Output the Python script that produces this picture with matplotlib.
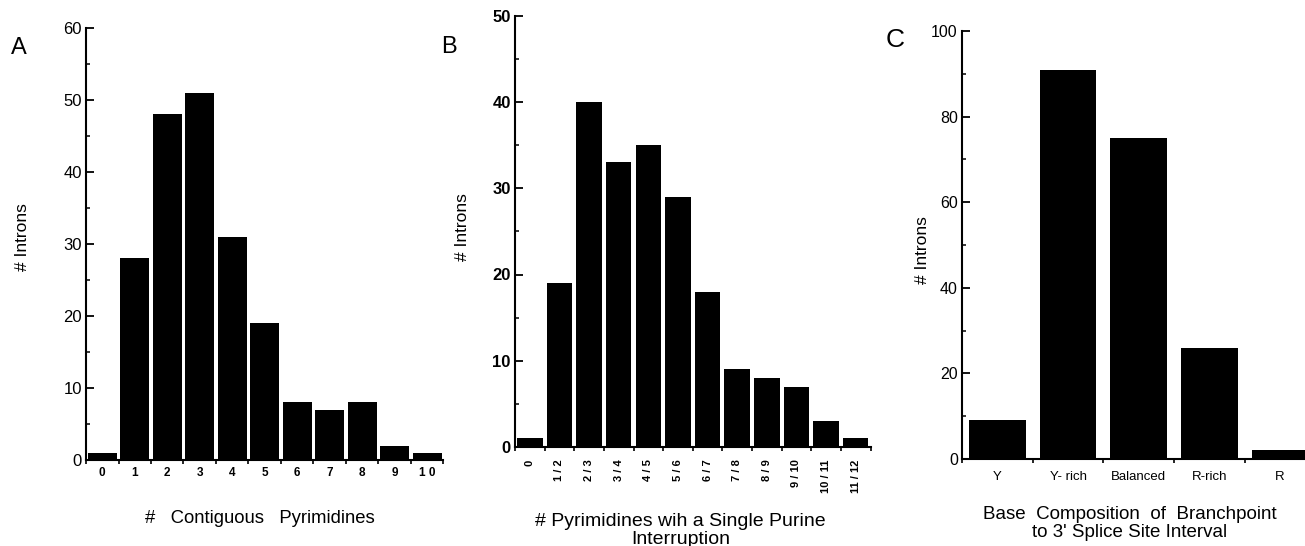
import matplotlib
matplotlib.use("Agg")
import matplotlib.pyplot as plt
import numpy as np
from matplotlib.ticker import MultipleLocator, FixedLocator, NullFormatter

plt.rcParams['font.family'] = ['Liberation Sans', 'DejaVu Sans']

# Panel A - nombre de pyrimidines contigues
a_labels = ["0", "1", "2", "3", "4", "5", "6", "7", "8", "9", "1 0"]
a_values = [1, 28, 48, 51, 31, 19, 8, 7, 8, 2, 1]

# Panel B - pyrimidines avec une seule purine
b_labels = ["0", "1 / 2", "2 / 3", "3 / 4", "4 / 5", "5 / 6", "6 / 7",
            "7 / 8", "8 / 9", "9 / 10", "10 / 11", "11 / 12"]
b_values = [1, 19, 40, 33, 35, 29, 18, 9, 8, 7, 3, 1]

# Panel C - composition de base
c_labels = ["Y", "Y- rich", "Balanced", "R-rich", "R"]
c_values = [9, 91, 75, 26, 2]

W, H = 1305, 546
fig = plt.figure(figsize=(W / 100, H / 100), dpi=100)

def make_ax(left, right, bottom, top):
    # positions en pixels -> coordonnees figure
    return fig.add_axes([left / W, 1 - bottom / H, (right - left) / W, (bottom - top) / H])

def draw(ax, values, labels, ymax, major, minor, bw, yfont, xfont, rot=False):
    n = len(values)
    x = np.arange(n) + 0.5
    ax.bar(x, values, width=bw, color="black", edgecolor="none")
    ax.set_xlim(0, n)
    ax.set_ylim(0, ymax)
    for s in ["top", "right"]:
        ax.spines[s].set_visible(False)
    for s in ["left", "bottom"]:
        ax.spines[s].set_linewidth(1.5)
    ax.yaxis.set_major_locator(MultipleLocator(major))
    ax.yaxis.set_minor_locator(MultipleLocator(minor))
    ax.tick_params(axis="y", which="major", direction="in", length=6, width=1.3,
                   labelsize=yfont[0], pad=3)
    ax.tick_params(axis="y", which="minor", direction="in", length=3, width=1.1)
    for t in ax.get_yticklabels():
        t.set_fontweight(yfont[1])
    # traits sur les bords des classes, etiquettes au centre
    ax.xaxis.set_major_locator(FixedLocator(np.arange(n + 1)))
    ax.xaxis.set_major_formatter(NullFormatter())
    ax.set_xticks(x, labels, minor=True)
    ax.tick_params(axis="x", which="major", direction="out", length=3, width=1.2)
    ax.tick_params(axis="x", which="minor", length=0, labelsize=xfont[0], pad=xfont[2])
    for t in ax.get_xticklabels(minor=True):
        t.set_fontweight(xfont[1])
        if rot:
            t.set_rotation(90)
            t.set_va("top")

axA = make_ax(86, 443.5, 460, 28)
draw(axA, a_values, a_labels, 60, 10, 5, 0.9, (12, "normal"), (8.5, "bold", 5))

axB = make_ax(515, 870.5, 447, 15.75)
draw(axB, b_values, b_labels, 50, 10, 5, 0.86, (12, "bold"), (8, "bold", 9), rot=True)

axC = make_ax(962, 1315.5, 459, 31)
draw(axC, c_values, c_labels, 100, 20, 10, 0.8, (11.5, "normal"), (9.5, "normal", 9))

# titres des axes
axA.set_ylabel("# Introns", fontsize=12.5)
axA.yaxis.set_label_coords(-0.157, 0.516)
axB.set_ylabel("# Introns", fontsize=12.5)
axB.yaxis.set_label_coords(-0.127, 0.51)
axC.set_ylabel("# Introns", fontsize=12.5)
axC.yaxis.set_label_coords(-0.09, 0.488)

axA.set_xlabel("#   Contiguous   Pyrimidines", fontsize=13.3)
axA.xaxis.set_label_coords(0.487, -0.116)
axB.set_xlabel("# Pyrimidines wih a Single Purine\nInterruption", fontsize=14, linespacing=1.08)
axB.xaxis.set_label_coords(0.465, -0.152)
axC.set_xlabel("Base  Composition  of  Branchpoint\nto 3' Splice Site Interval", fontsize=13.5, linespacing=1.04)
axC.xaxis.set_label_coords(0.475, -0.11)

# lettres des panneaux
fig.text(11 / W, 1 - 48 / H, "A", fontsize=17, va="center", ha="left")
fig.text(441 / W, 1 - 47 / H, "B", fontsize=17, va="center", ha="left")
fig.text(886 / W, 1 - 40 / H, "C", fontsize=19, va="center", ha="left")

fig.savefig("out.png", dpi=100)
